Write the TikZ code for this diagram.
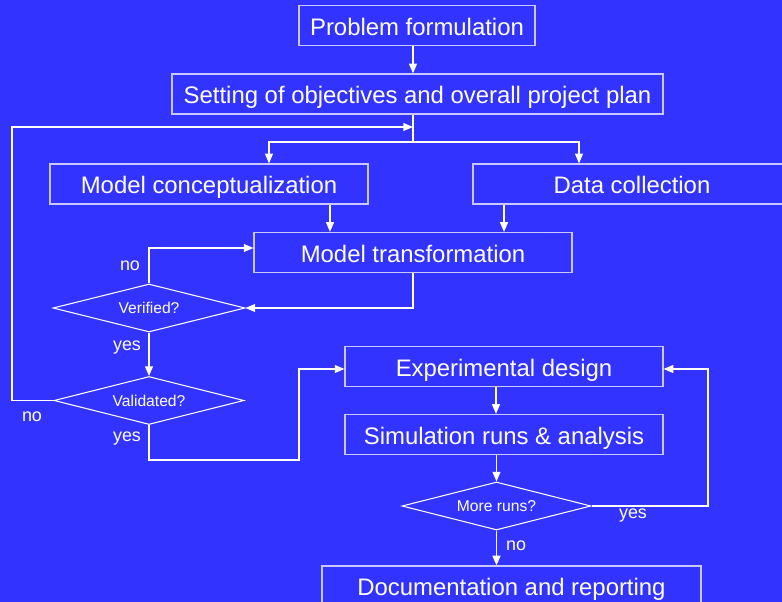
\documentclass[tikz,border=0pt]{standalone}
\usepackage{fontspec}
\setmainfont{Liberation Sans}
\usetikzlibrary{arrows.meta,shapes.geometric}
\definecolor{slideblue}{RGB}{51,51,255}
\definecolor{boxline}{RGB}{200,200,255}
\tikzset{
	stepbox/.style={draw=boxline, line width=0.7pt, minimum height=0.8cm, inner sep=0pt, text height=11pt, text depth=0pt, text=white, font=\fontsize{13.6pt}{16pt}\selectfont},
	query/.style={diamond, draw=white, line width=0.6pt, minimum width=3.84cm, minimum height=0.96cm, aspect=4, inner sep=0pt, text height=6.6pt, text depth=0pt, text=white, font=\fontsize{8.9pt}{10pt}\selectfont},
	answer/.style={text=white, inner sep=0pt, font=\fontsize{10.2pt}{12pt}\selectfont},
	link/.style={draw=white, line width=0.7pt},
	flow/.style={link, -{Triangle[length=5.5pt,width=4.5pt]}}
}

\begin{document}
\begin{tikzpicture}[x=0.02cm, y=-0.02cm]
		%%%%% START %%%%%
		\path[use as bounding box, fill=slideblue] (0, 0) rectangle (782, 602);
		\clip (0, 0) rectangle (782, 602);
		
		\node[stepbox, minimum width=4.72cm] (problem) at (417, 25.5) {Problem formulation};
		\node[stepbox, minimum width=9.82cm] (objectives) at (417.5, 94) {Setting of objectives and overall project plan};
		\node[stepbox, minimum width=6.36cm] (concept) at (209, 184) {Model conceptualization};
		\node[stepbox, minimum width=6.36cm] (data) at (632, 184) {Data collection};
		\node[stepbox, minimum width=6.36cm] (transform) at (413, 252.5) {Model transformation};
		\node[query] (verified) at (149, 308) {Verified?};
		\node[query, minimum width=3.8cm] (validated) at (149, 400.5) {Validated?};
		\node[stepbox, minimum width=6.36cm] (design) at (504, 366.5) {Experimental design};
		\node[stepbox, minimum width=6.36cm] (runs) at (504, 434.5) {Simulation runs \& analysis};
		\node[query, minimum width=3.78cm] (more) at (496.5, 506) {More runs?};
		\node[stepbox, minimum width=7.58cm] (report) at (511.5, 586) {Documentation and reporting};
		
		\coordinate (spine) at (413, 0);
		\coordinate (split) at (413, 142);
		\coordinate (merge) at (413, 127);
		\coordinate (back) at (12, 127);
		\coordinate (detour) at (299, 460);
		\coordinate (repeat) at (708, 430);
		
		\draw[flow] (problem.south -| spine) -- (objectives.north -| spine);
		\draw[link] (objectives.south -| spine) -- (split);
		\draw[flow] (split) -| ([xshift=1.2cm]concept.north);
		\draw[flow] (split) -| ([xshift=-1.06cm]data.north);
		\draw[flow] ([xshift=2.42cm]concept.south) -- ([xshift=2.42cm]concept.south |- transform.north);
		\draw[flow] ([xshift=-2.56cm]data.south) -- ([xshift=-2.56cm]data.south |- transform.north);
		
		\draw[flow] (transform.south) |- (verified.east);
		\draw[flow] (verified.north) |- ([yshift=0.09cm]transform.west);
		\draw[flow] (verified.south) -- (validated.north);
		\draw[flow] (validated.west) -| (back) -- (merge);
		\draw[flow] (validated.south) |- (detour) |- ([yshift=-0.05cm]design.west);
		
		\draw[flow] ([xshift=-0.16cm]design.south) -- ([xshift=-0.16cm]runs.north);
		\draw[flow] (runs.south -| more) -- (more.north);
		\draw[flow] (more.east) -| (repeat) |- ([yshift=-0.05cm]design.east);
		\draw[flow] (more.south) -- (more.south |- report.north);
		
		\node[answer] (verno) at (130, 266) {no};
		\node[answer] (veryes) at (127, 348) {yes};
		\node[answer] (valno) at (32, 417) {no};
		\node[answer] (valyes) at (127, 439) {yes};
		\node[answer] (moreyes) at (633, 516) {yes};
		\node[answer] (moreno) at (516, 546) {no};
		%%%%% END %%%%%
\end{tikzpicture}
\end{document}
